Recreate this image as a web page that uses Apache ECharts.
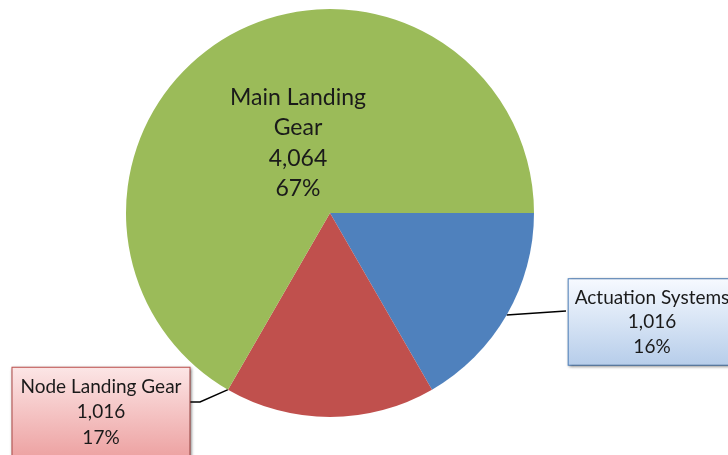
<!DOCTYPE html>
<html>
<head>
<meta charset="utf-8">
<script src="https://cdn.jsdelivr.net/npm/echarts@6/dist/echarts.min.js"></script>
<style>
  html, body { margin: 0; padding: 0; background: #fff; }
  #chart { width: 728px; height: 455px; }
</style>
</head>
<body>
<div id="chart"></div>
<script>
// Landing gear work breakdown
const categories = ['Actuation Systems', 'Node Landing Gear', 'Main Landing Gear'];
const values = [1016, 1016, 4064];
const percentLabels = ['16%', '17%', '67%'];
const nameLines = ['Actuation Systems', 'Node Landing Gear', 'Main Landing\nGear'];
const colors = ['#4f81bd', '#c0504d', '#9bbb59'];

const FONT = 'Lato, "Open Sans", sans-serif';
const CENTER = [330, 213];
const RADIUS = 204;

function fmt(v) {
  return v.toLocaleString('en-US');
}

function grad(top, bottom) {
  return new echarts.graphic.LinearGradient(0, 0, 0, 1, [
    { offset: 0, color: top },
    { offset: 1, color: bottom }
  ]);
}

// slice angles (degrees clockwise from 3 o'clock)
const total = values.reduce((a, b) => a + b, 0);
const sliceStart = [];
const sliceEnd = [];
values.reduce((acc, v, i) => {
  sliceStart[i] = acc;
  sliceEnd[i] = acc + v / total * 360;
  return sliceEnd[i];
}, 0);

function rimPoint(deg) {
  const a = deg * Math.PI / 180;
  return [CENTER[0] + RADIUS * Math.cos(a), CENTER[1] + RADIUS * Math.sin(a)];
}

// per-slice label styling
const labelStyles = [
  {
    position: 'outside',
    fontSize: 19, lineHeight: 24.5, color: '#1a1a1a', fontFamily: FONT,
    backgroundColor: grad('#f7faff', '#b6cdea'),
    borderColor: '#4f81bd', borderWidth: 1,
    padding: [6, 6, 6, 6],
    shadowColor: 'rgba(0,0,0,0.35)', shadowBlur: 3, shadowOffsetX: 1, shadowOffsetY: 1
  },
  {
    position: 'outside',
    fontSize: 19, lineHeight: 25.5, color: '#1a1a1a', fontFamily: FONT,
    backgroundColor: grad('#fce6e6', '#eda2a2'),
    borderColor: '#c0504d', borderWidth: 1,
    padding: [6, 8, 6, 8],
    shadowColor: 'rgba(0,0,0,0.35)', shadowBlur: 3, shadowOffsetX: 1, shadowOffsetY: 1
  },
  {
    position: 'inside',
    fontSize: 23, lineHeight: 30.5, color: '#1a1a1a', fontFamily: FONT
  }
];

// label anchor points (centre of each text block)
const labelSpots = [
  { x: 652, y: 322 },
  { x: 101, y: 412 },
  { x: 298, y: 143 }
];

// leader line routes: rim angle, then bends toward the box
const leaderRoutes = [
  { angle: (sliceStart[0] + sliceEnd[0]) / 2, bends: [[566, 311]] },
  { angle: sliceEnd[1], bends: [[200, 402], [189, 402]] },
  null
];

const seriesData = categories.map((name, i) => ({
  name: name,
  value: values[i],
  itemStyle: { color: colors[i] },
  label: Object.assign({
    show: true,
    formatter: nameLines[i] + '\n' + fmt(values[i]) + '\n' + percentLabels[i],
    align: 'center'
  }, labelStyles[i]),
  labelLine: {
    show: i < 2,
    length: 20,
    length2: 20,
    smooth: false,
    lineStyle: { color: '#000', width: 1.5 }
  }
}));

const chart = echarts.init(document.getElementById('chart'), null, { renderer: 'canvas' });
chart.setOption({
  backgroundColor: '#ffffff',
  animation: false,
  series: [{
    type: 'pie',
    center: CENTER,
    radius: [0, RADIUS],
    startAngle: 0,
    clockwise: true,
    avoidLabelOverlap: false,
    data: seriesData,
    itemStyle: { borderWidth: 0 },
    labelLayout: function (params) {
      const i = params.dataIndex;
      const s = labelSpots[i];
      const out = {
        x: s.x,
        y: s.y,
        align: 'center',
        verticalAlign: 'middle',
        draggable: false
      };
      const route = leaderRoutes[i];
      if (route) {
        out.labelLinePoints = [rimPoint(route.angle)].concat(route.bends);
      }
      return out;
    }
  }]
});
</script>
</body>
</html>
